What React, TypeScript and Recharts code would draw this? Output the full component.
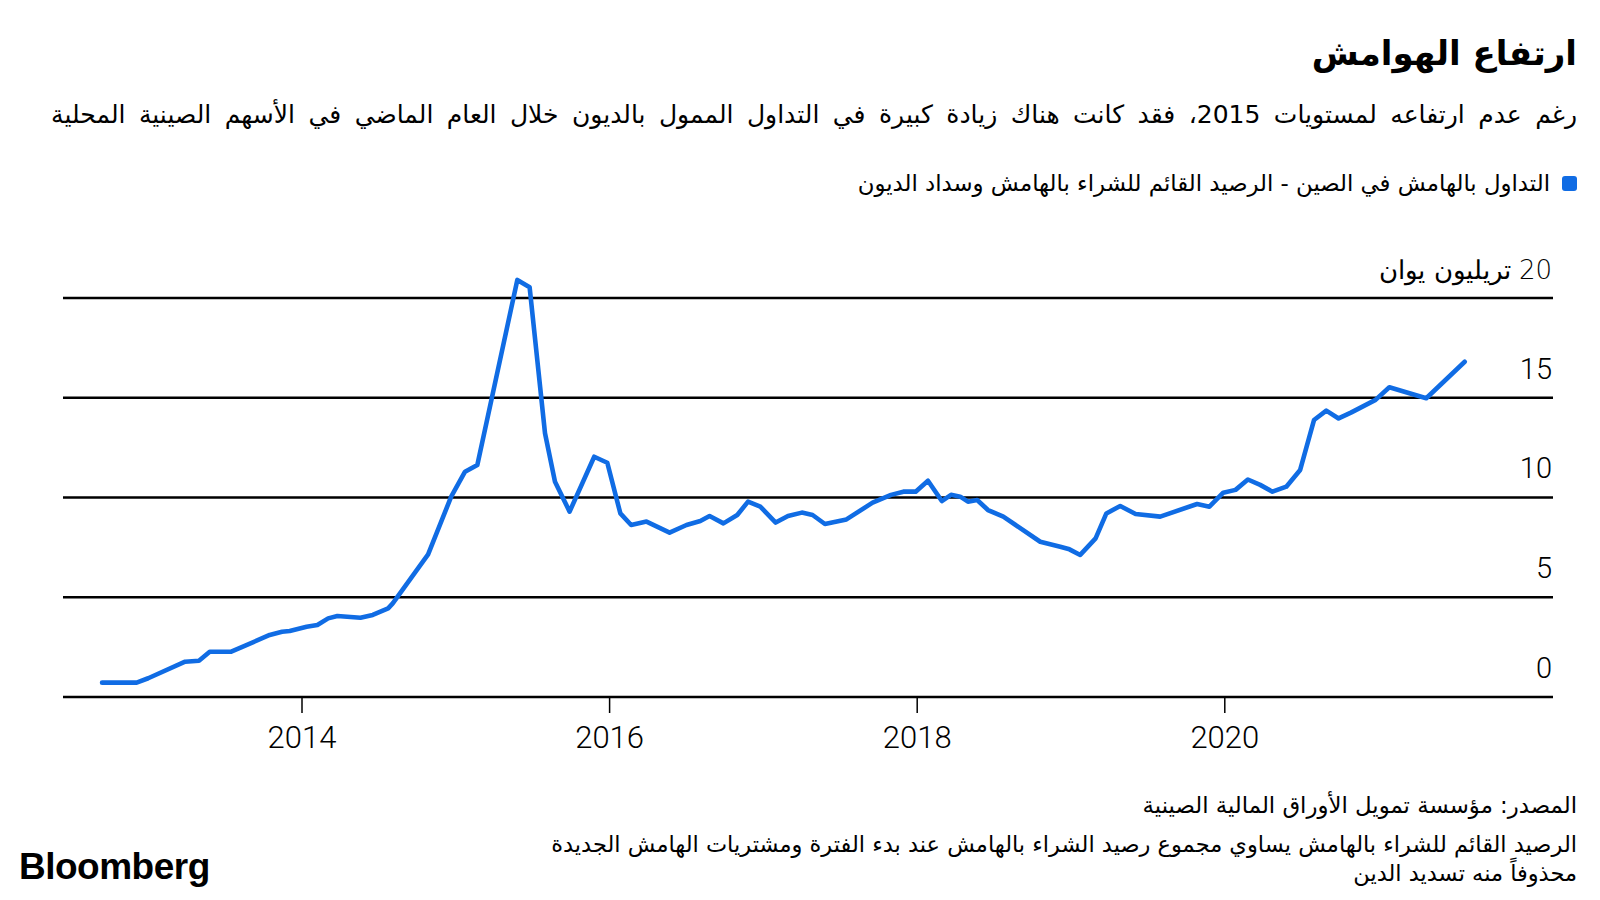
import { CartesianGrid, Line, LineChart, XAxis, YAxis } from 'recharts'

const dates = [
  2012.7, 2012.925, 2013.0, 2013.24, 2013.33, 2013.4, 2013.54, 2013.79, 2013.87, 2013.92,
  2014.03, 2014.1, 2014.17, 2014.23, 2014.38, 2014.46, 2014.56, 2014.59, 2014.82, 2014.97,
  2015.06, 2015.14, 2015.4, 2015.48, 2015.58, 2015.645, 2015.74, 2015.9, 2015.985, 2016.07,
  2016.14, 2016.24, 2016.39, 2016.5, 2016.59, 2016.65, 2016.74, 2016.83, 2016.9, 2016.98,
  2017.08, 2017.16, 2017.25, 2017.32, 2017.4, 2017.54, 2017.71, 2017.83, 2017.91, 2017.99,
  2018.07, 2018.16, 2018.22, 2018.28, 2018.33, 2018.39, 2018.46, 2018.56, 2018.8, 2018.93,
  2018.99, 2019.06, 2019.16, 2019.23, 2019.32, 2019.42, 2019.58, 2019.82, 2019.9, 2019.99,
  2020.07, 2020.15, 2020.23, 2020.31, 2020.4, 2020.49, 2020.58, 2020.66, 2020.74, 2020.82,
  2020.98, 2021.07, 2021.31, 2021.56,
]

const marginBalance = [
  0.72, 0.72, 0.94, 1.77, 1.82, 2.27, 2.27, 3.11, 3.27, 3.31,
  3.52, 3.61, 3.94, 4.06, 3.97, 4.11, 4.44, 4.69, 7.15, 10.04,
  11.29, 11.63, 20.9, 20.53, 13.22, 10.79, 9.29, 12.04, 11.74, 9.2,
  8.62, 8.79, 8.24, 8.62, 8.82, 9.07, 8.7, 9.12, 9.79, 9.54,
  8.74, 9.07, 9.24, 9.12, 8.67, 8.9, 9.74, 10.13, 10.29, 10.29,
  10.84, 9.82, 10.13, 10.04, 9.79, 9.87, 9.37, 9.04, 7.78, 7.53,
  7.4, 7.12, 7.95, 9.2, 9.57, 9.17, 9.04, 9.67, 9.54, 10.24,
  10.38, 10.9, 10.63, 10.29, 10.54, 11.38, 13.88, 14.35, 13.96, 14.25,
  14.89, 15.52, 14.97, 16.8,
]

const yearTicks = [2014, 2016, 2018, 2020]
const valueTicks = [0, 5, 10, 15, 20]
const unitLabel = 'تريليون يوان'

const title = 'ارتفاع الهوامش'
const subtitle = 'رغم عدم ارتفاعه لمستويات 2015، فقد كانت هناك زيادة كبيرة في التداول الممول بالديون خلال العام الماضي في الأسهم الصينية المحلية'
const legendLabel = 'التداول بالهامش في الصين - الرصيد القائم للشراء بالهامش وسداد الديون'
const source = 'المصدر: مؤسسة تمويل الأوراق المالية الصينية'
const noteLine1 = 'الرصيد القائم للشراء بالهامش يساوي مجموع رصيد الشراء بالهامش عند بدء الفترة ومشتريات الهامش الجديدة'
const noteLine2 = 'محذوفاً منه تسديد الدين'

const data = dates.map((d, i) => ({ date: d, value: marginBalance[i] }))

const BLUE = '#106ce4'
const arabicFont = "'DejaVu Sans', sans-serif"
const numFont = "Roboto, 'Liberation Sans', sans-serif"

function YTick({ x, y, payload }: any) {
  const top = payload.value === 20
  return (
    <text
      x={x - 3}
      y={y - 19}
      textAnchor="end"
      fontSize={top ? 26 : 29}
      fontFamily={top ? arabicFont : numFont}
      fontWeight={300}
      fill="#000"
    >
      {top ? `\u200F${payload.value} ${unitLabel}` : `${payload.value}`}
    </text>
  )
}

function XTick({ x, y, payload }: any) {
  return (
    <text x={x} y={y} dy={35} textAnchor="middle" fontSize={31} fontFamily={numFont} fontWeight={300} fill="#000">
      {payload.value}
    </text>
  )
}

const rtl: React.CSSProperties = {
  position: 'absolute',
  right: 23,
  direction: 'rtl',
  textAlign: 'right',
  fontFamily: arabicFont,
  color: '#000',
  whiteSpace: 'nowrap',
}

export default function App() {
  return (
    <div style={{ position: 'absolute', top: 0, left: 0, width: 1600, height: 900, background: '#fff', overflow: 'hidden' }}>
      <div style={{ ...rtl, top: 31, fontSize: 34, fontWeight: 700, lineHeight: '44px' }}>{title}</div>
      <div style={{ ...rtl, top: 98, fontSize: 25, lineHeight: '34px', wordSpacing: 5.5 }}>{subtitle}</div>
      <div style={{ ...rtl, top: 168, fontSize: 22.8, lineHeight: '30px', display: 'flex', alignItems: 'center', gap: 12 }}>
        <span style={{ display: 'inline-block', width: 15, height: 15, borderRadius: 3, background: BLUE }} />
        <span>{legendLabel}</span>
      </div>
      <div style={{ position: 'absolute', top: 0, left: 0 }}>
        <LineChart width={1600} height={900} data={data} margin={{ top: 258, right: 46, bottom: 163, left: 63 }}>
          <CartesianGrid vertical={false} horizontalValues={valueTicks} stroke="#000" strokeWidth={2.5} />
          <XAxis
            dataKey="date"
            type="number"
            domain={[2012.446, 2022.134]}
            ticks={yearTicks}
            height={40}
            axisLine={false}
            tickLine={{ stroke: '#000', strokeWidth: 1.5 }}
            tickSize={16}
            tickMargin={0}
            tick={<XTick />}
          />
          <YAxis
            orientation="right"
            type="number"
            domain={[0, 22]}
            ticks={valueTicks}
            interval={0}
            width={1}
            axisLine={false}
            tickLine={false}
            tickSize={0}
            tick={<YTick />}
          />
          <Line
            type="linear"
            dataKey="value"
            stroke={BLUE}
            strokeWidth={4.6}
            strokeLinejoin="round"
            strokeLinecap="round"
            dot={false}
            isAnimationActive={false}
          />
        </LineChart>
      </div>
      <div style={{ ...rtl, top: 790, fontSize: 22.8, lineHeight: '30px' }}>{source}</div>
      <div style={{ ...rtl, top: 830, fontSize: 22.5, lineHeight: '29px' }}>
        {noteLine1}
        <br />
        {noteLine2}
      </div>
      <div
        style={{
          position: 'absolute',
          left: 19,
          top: 847,
          fontFamily: "'Liberation Sans', Arial, sans-serif",
          fontWeight: 700,
          fontSize: 37,
          letterSpacing: -0.5,
          color: '#000',
          lineHeight: '40px',
        }}
      >
        Bloomberg
      </div>
    </div>
  )
}
